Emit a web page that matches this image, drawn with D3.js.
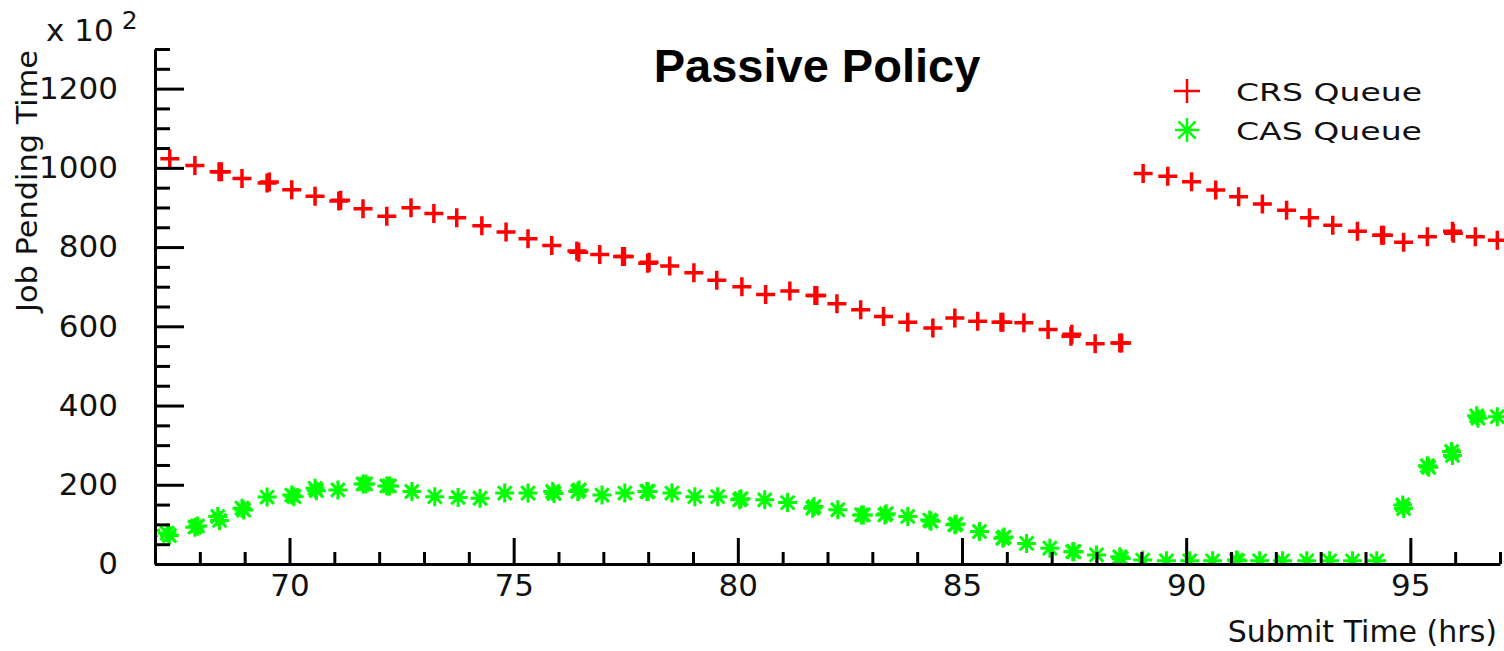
<!doctype html>
<meta charset='utf-8' />
<script src='https://cdn.jsdelivr.net/npm/d3@7/dist/d3.min.js'></script>
<style>
    body { margin: 0; background: #fff; }
    svg { display: block; }
</style>
<svg></svg>
<script>
    var width = 1504,
        height = 651,
        fontFamily = '"DejaVu Sans", sans-serif'

    // CRS queue (red +), submit time in hours, pending time in units of 100
    var crsX = [66.8, 67.33, 67.89, 68.43, 68.48, 68.94, 69.50, 69.55, 70.05, 70.57, 71.10, 71.14, 71.64, 72.17,
        72.71, 73.22, 73.73, 74.29, 74.83, 75.32, 75.85, 76.41, 76.45, 76.92, 77.43, 77.47, 77.99, 78.02,
        78.48, 79.02, 79.53, 80.09, 80.62, 81.16, 81.72, 81.76, 82.21, 82.74, 83.25, 83.79, 84.35, 84.84,
        85.35, 85.87, 85.91, 86.38, 86.92, 87.43, 87.45, 87.97, 88.52, 88.56,
        89.04, 89.59, 90.12, 90.66, 91.17, 91.70, 92.24, 92.75, 93.27, 93.82, 94.36, 94.40, 94.85,
        95.38, 95.94, 95.96, 96.45, 96.94]
    var crsY = [1025, 1023, 1006, 990, 990, 973, 962, 964, 945, 928, 916, 918, 897, 878,
        899, 885, 874, 854, 838, 821, 804, 790, 787, 781, 776, 776, 759, 762,
        752, 735, 716, 700, 680, 689, 678, 678, 657, 642, 625, 610, 596, 621,
        613, 610, 610, 609, 592, 575, 580, 556, 558, 558,
        986, 979, 965, 944, 927, 909, 893, 874, 855, 840, 830, 830, 812,
        826, 840, 835, 826, 817]

    // CAS queue (green asterisk)
    var casX = [66.9, 67.27, 67.32, 67.89, 67.95, 68.40, 68.44, 68.94, 68.98, 69.50, 70.05, 70.10, 70.57, 70.60, 71.08,
        71.64, 71.70, 72.17, 72.23, 72.73, 73.24, 73.76, 74.25, 74.80, 75.32, 75.87, 75.90, 76.43, 76.46,
        76.97, 77.48, 77.97, 78.00, 78.53, 79.04, 79.55, 80.04, 80.07, 80.60, 81.11, 81.67, 81.70,
        82.23, 82.76, 82.80, 83.28, 83.31, 83.79, 84.28, 84.31, 84.84, 84.87, 85.39, 85.91, 85.94, 86.44,
        86.96, 87.47, 87.50, 88.00, 88.52, 88.55, 89.03, 89.56, 90.08, 90.59, 91.12, 91.15, 91.64, 92.15,
        92.69, 93.20, 93.71, 94.25, 94.83, 94.85, 95.38, 95.41, 95.92, 95.94, 96.48, 96.51, 96.94]
    var casY = [85, 78, 72, 93, 96, 120, 110, 141, 136, 169, 174, 170, 191, 185, 187,
        202, 202, 197, 197, 183, 170, 168, 166, 179, 179, 183, 178, 183, 187,
        174, 179, 183, 183, 179, 170, 170, 162, 165, 162, 155, 141, 145,
        137, 124, 124, 124, 127, 120, 111, 108, 99, 101, 82, 65, 68, 52,
        40, 31, 31, 23, 18, 14, 10, 8, 8, 8, 10, 8, 8, 8,
        8, 8, 8, 8, 149, 140, 248, 244, 284, 274, 374, 368, 372]

    var yTicks = [0, 200, 400, 600, 800, 1000, 1200]
    var xTicks = [70, 75, 80, 85, 90, 95]
    var seriesNames = ['CRS Queue', 'CAS Queue']

    var svg = d3.select('svg')
        .attr('width', width)
        .attr('height', height)
        .style('font-family', fontFamily)

    var x = d3.scaleLinear().domain([67, 97]).range([155, 1500])
    var y = d3.scaleLinear().domain([0, 1300]).range([564, 49])

    // markers, clipped to plot area
    svg.append('clipPath').attr('id', 'plot')
        .append('rect')
        .attr('x', x(67)).attr('y', 0)
        .attr('width', x(97) - x(67) + 4).attr('height', y(0))

    var plus = (s) => `M${-s},0H${s}M0,${-s}V${s}`
    var star = (s) => {
        var d = s * 0.72
        return `M${-s},0H${s}M0,${-s}V${s}M${-d},${-d}L${d},${d}M${-d},${d}L${d},${-d}`
    }

    var marks = svg.append('g').attr('clip-path', 'url(#plot)')

    marks.selectAll('path.crs')
        .data(crsX.map((v, i) => [v, crsY[i]]))
        .enter()
        .append('path')
        .attr('class', 'crs')
        .attr('transform', d => `translate(${x(d[0])},${y(d[1])})`)
        .attr('d', plus(9.5))
        .style('stroke', '#ff0000')
        .style('stroke-width', 3.5)
        .style('fill', 'none')

    marks.selectAll('path.cas')
        .data(casX.map((v, i) => [v, casY[i]]))
        .enter()
        .append('path')
        .attr('class', 'cas')
        .attr('transform', d => `translate(${x(d[0])},${y(d[1])})`)
        .attr('d', star(9.5))
        .style('stroke', '#00ff00')
        .style('stroke-width', 3)
        .style('fill', 'none')

    // axes
    svg.append('g')
        .attr('transform', `translate(${x(67)},0)`)
        .call(d3.axisLeft(y).tickValues(yTicks).tickFormat(d3.format('d'))
            .tickSizeInner(-29).tickSizeOuter(0).tickPadding(37))
    svg.append('g')
        .attr('transform', `translate(${x(67)},0)`)
        .call(d3.axisLeft(y).tickValues(d3.range(0, 1301, 50).filter(v => v % 200)).tickSizeInner(-15).tickSizeOuter(0).tickFormat(''))
        .select('.domain').remove()

    svg.append('g')
        .attr('transform', `translate(0,${y(0)})`)
        .call(d3.axisBottom(x).tickValues(xTicks).tickFormat(d3.format('d'))
            .tickSizeInner(-26).tickSizeOuter(0).tickPadding(10))
    svg.append('g')
        .attr('transform', `translate(0,${y(0)})`)
        .call(d3.axisBottom(x).tickValues(d3.range(68, 98).filter(v => v % 5)).tickSizeInner(-12).tickSizeOuter(0).tickFormat(''))
        .select('.domain').remove()

    svg.selectAll('.domain, .tick line')
        .style('stroke', '#000')
        .style('stroke-width', 3)
    svg.selectAll('.tick text')
        .style('font-family', fontFamily)
        .style('font-size', '31px')
        .style('fill', '#111')

    // labels
    var mult = svg.append('text')
        .attr('x', 46).attr('y', 41)
        .style('font-size', '31px')
        .style('fill', '#111')
    mult.append('tspan').text('x 10')
    mult.append('tspan').attr('dx', 8).attr('dy', -12).style('font-size', '25px').text('2')

    svg.append('text')
        .attr('transform', 'translate(37,181) rotate(-90)')
        .attr('text-anchor', 'middle')
        .attr('textLength', 262)
        .attr('lengthAdjust', 'spacingAndGlyphs')
        .style('font-size', '29px')
        .style('fill', '#111')
        .text('Job Pending Time')

    svg.append('text')
        .attr('x', 1497).attr('y', 642)
        .attr('text-anchor', 'end')
        .style('font-size', '30px')
        .style('fill', '#111')
        .text('Submit Time (hrs)')

    svg.append('text')
        .attr('x', 817).attr('y', 82)
        .attr('text-anchor', 'middle')
        .style('font-family', '"Liberation Sans", Arial, sans-serif')
        .style('font-weight', 'bold')
        .style('font-size', '47px')
        .style('fill', '#000')
        .text('Passive Policy')

    // legend
    var legend = svg.append('g')
    var legendY = [91, 130]
    legend.append('path')
        .attr('transform', `translate(1187,${legendY[0]})`)
        .attr('d', 'M-13,0H13M0,-12V12')
        .style('stroke', '#ff0000').style('stroke-width', 2.5)
    legend.append('path')
        .attr('transform', `translate(1187,${legendY[1]})`)
        .attr('d', star(12))
        .style('stroke', '#00ff00').style('stroke-width', 2.5)
    legend.selectAll('text')
        .data(seriesNames)
        .enter()
        .append('text')
        .attr('x', 1236)
        .attr('y', (d, i) => legendY[i] + 10)
        .attr('textLength', 186)
        .attr('lengthAdjust', 'spacingAndGlyphs')
        .style('font-size', '25px')
        .style('fill', '#111')
        .text(d => d)
</script>
